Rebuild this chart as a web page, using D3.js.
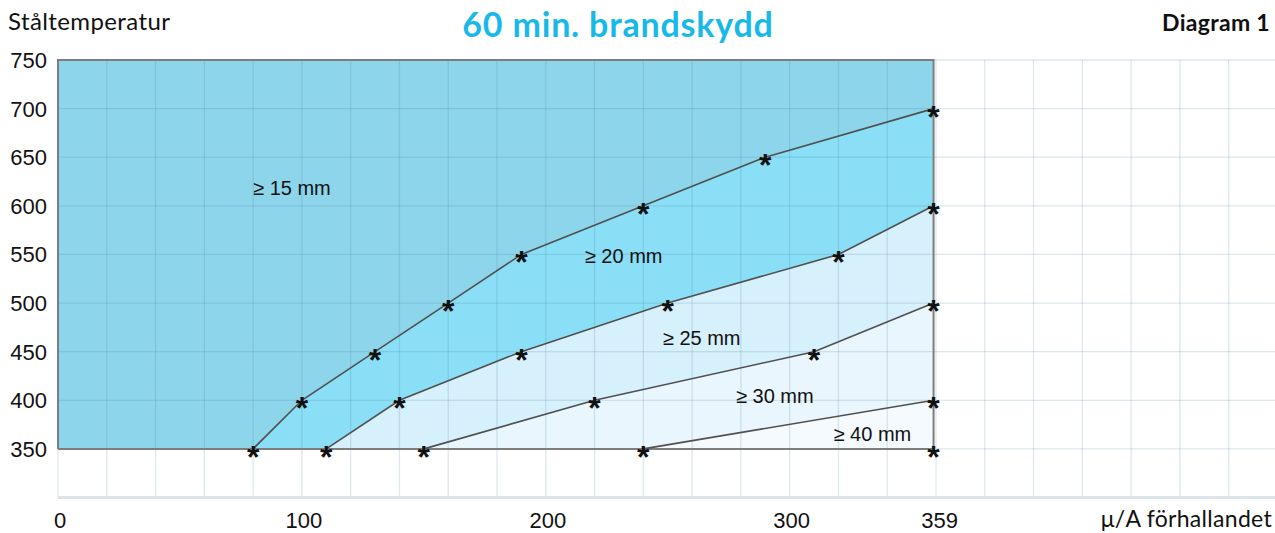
<!DOCTYPE html>
<html lang="sv">
<head>
    <meta charset="UTF-8">
    <title>60 min. brandskydd</title>
    <script src="https://cdnjs.cloudflare.com/ajax/libs/d3/7.8.5/d3.min.js"></script>
    <style>
        body { margin: 0; background: #fff; }
        svg { display: block; }
        .head { font-family: Lato, "Open Sans", sans-serif; fill: #111; }
        .tick-label { font-family: "Liberation Sans", Arial, sans-serif; font-size: 22px; fill: #111; }
        .zone-label { font-family: "Liberation Sans", Arial, sans-serif; font-size: 20px; fill: #111; }
        .star { font-family: "Liberation Sans", Arial, sans-serif; font-size: 32px; font-weight: bold; fill: #111; }
    </style>
</head>
<body>
<svg id="chart" width="1275" height="533"></svg>
<script>
    // Data
    const xTicks = [0, 100, 200, 300, 359];
    const yTicks = [350, 400, 450, 500, 550, 600, 650, 700, 750];
    const xMax = 359;

    const line15 = [[80, 350], [100, 400], [130, 450], [160, 500], [190, 550], [240, 600], [290, 650], [359, 700]];
    const line20 = [[110, 350], [140, 400], [190, 450], [250, 500], [320, 550], [359, 600]];
    const line25 = [[150, 350], [220, 400], [310, 450], [359, 500]];
    const line30 = [[240, 350], [359, 400]];
    const corner = [[359, 350]];

    const zoneLabels = [
        {text: "≥ 15 mm", x: 80, y: 611},
        {text: "≥ 20 mm", x: 216, y: 541},
        {text: "≥ 25 mm", x: 248, y: 457},
        {text: "≥ 30 mm", x: 278, y: 397},
        {text: "≥ 40 mm", x: 318, y: 358}
    ];

    const svg = d3.select("#chart");

    const x = d3.scaleLinear().domain([0, 500]).range([58, 58 + 500 * 878 / 360]);
    const y = d3.scaleLinear().domain([300, 750]).range([497.5, 60]);

    // filled zones, painted from the top one down
    const fills = [
        {pts: [[0, 350], [0, 750], [xMax, 750], [xMax, 350]], color: "#8dd5eb"},
        {pts: line15.concat(corner), color: "#8adef6"},
        {pts: line20.concat(corner), color: "#d6f0fc"},
        {pts: line25.concat(corner), color: "#e9f6fd"},
        {pts: line30.concat(corner), color: "#f4fafe"}
    ];

    const poly = d3.line().x(d => x(d[0])).y(d => y(d[1]));

    svg.selectAll(".zone")
        .data(fills)
        .enter().append("path")
        .attr("class", "zone")
        .attr("d", d => poly(d.pts) + "Z")
        .attr("fill", d => d.color);

    // grid
    const gridX = d3.range(0, 501, 20);
    const gridY = d3.range(350, 751, 50);

    svg.selectAll(".gx")
        .data(gridX)
        .enter().append("line")
        .attr("x1", d => x(d)).attr("x2", d => x(d))
        .attr("y1", y(750)).attr("y2", y(300))
        .attr("stroke", "rgba(70,120,150,0.18)")
        .attr("stroke-width", 1.3);

    svg.selectAll(".gy")
        .data(gridY)
        .enter().append("line")
        .attr("x1", x(0)).attr("x2", 1275)
        .attr("y1", d => y(d)).attr("y2", d => y(d))
        .attr("stroke", "rgba(70,120,150,0.18)")
        .attr("stroke-width", 1.3);

    // bottom axis line
    svg.append("line")
        .attr("x1", x(0)).attr("x2", 1275)
        .attr("y1", y(300)).attr("y2", y(300))
        .attr("stroke", "#dde4e9")
        .attr("stroke-width", 3);

    // frame of the zone block
    svg.append("path")
        .attr("d", poly([[0, 350], [0, 750], [xMax, 750], [xMax, 350], [0, 350]]))
        .attr("fill", "none")
        .attr("stroke", "#7d7d7d")
        .attr("stroke-width", 2);

    // limit lines
    svg.selectAll(".limit")
        .data([line15, line20, line25, line30])
        .enter().append("path")
        .attr("class", "limit")
        .attr("d", d => poly(d))
        .attr("fill", "none")
        .attr("stroke", "#505050")
        .attr("stroke-width", 1.6);

    // asterisk markers
    const stars = [].concat(line15, line20, line25, line30, corner);
    svg.selectAll(".star")
        .data(stars)
        .enter().append("text")
        .attr("class", "star")
        .attr("x", d => x(d[0]))
        .attr("y", d => y(d[1]) + 19)
        .attr("text-anchor", "middle")
        .text("*");

    // zone labels
    svg.selectAll(".zone-label")
        .data(zoneLabels)
        .enter().append("text")
        .attr("class", "zone-label")
        .attr("x", d => x(d.x))
        .attr("y", d => y(d.y))
        .text(d => d.text);

    // tick labels
    svg.selectAll(".ylab")
        .data(yTicks)
        .enter().append("text")
        .attr("class", "tick-label")
        .attr("x", 47)
        .attr("y", d => y(d) + 8)
        .attr("text-anchor", "end")
        .text(d => d);

    svg.selectAll(".xlab")
        .data(xTicks)
        .enter().append("text")
        .attr("class", "tick-label")
        .attr("x", d => x(d) + (d === 359 ? 6 : 2))
        .attr("y", 528)
        .attr("text-anchor", "middle")
        .text(d => d);

    // headings
    svg.append("text")
        .attr("class", "head")
        .attr("x", 8).attr("y", 30)
        .attr("font-size", 24)
        .attr("letter-spacing", 0.4)
        .text("Ståltemperatur");

    svg.append("text")
        .attr("class", "head")
        .attr("x", 618).attr("y", 37)
        .attr("text-anchor", "middle")
        .attr("font-size", 34)
        .attr("font-weight", "bold")
        .attr("letter-spacing", 0.8)
        .style("fill", "#17b9e9")
        .text("60 min. brandskydd");

    svg.append("text")
        .attr("class", "head")
        .attr("x", 1270).attr("y", 31)
        .attr("text-anchor", "end")
        .attr("font-size", 23)
        .attr("font-weight", "bold")
        .attr("letter-spacing", 0.3)
        .text("Diagram 1");

    svg.append("text")
        .attr("class", "head")
        .attr("x", 1272).attr("y", 527)
        .attr("text-anchor", "end")
        .attr("font-size", 23)
        .attr("letter-spacing", 0.3)
        .text("μ/A förhallandet");
</script>
</body>
</html>
